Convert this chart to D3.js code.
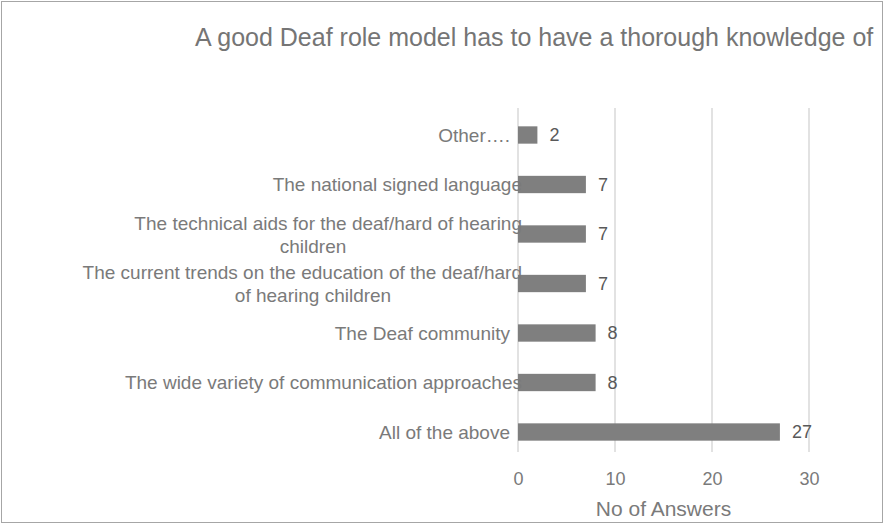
<!DOCTYPE html>
<html>
<head>
<meta charset="utf-8">
<script src="https://cdn.jsdelivr.net/npm/d3@7"></script>
<style>
  body { margin: 0; background: #fff; }
  svg { display: block; font-family: "Liberation Sans", Arial, Helvetica, sans-serif; }
</style>
</head>
<body>
<div id="chart"></div>
<script>
// categories listed bottom to top as in the source sheet
const categories = [
    ["All of the above"],
    ["The wide variety of communication approaches"],
    ["The Deaf community"],
    ["The current trends on the education of the deaf/hard", "of hearing children"],
    ["The technical aids for the deaf/hard of hearing", "children"],
    ["The national signed language"],
    ["Other…."]
];
const answers = [27, 8, 8, 7, 7, 7, 2];
const xTicks = [0, 10, 20, 30];
const titleText = "A good Deaf role model has to have a thorough knowledge of";
const xTitle = "No of Answers";

const W = 886, H = 525;
const margin = { top: 110, right: 77, bottom: 68, left: 518 };
const width = W - margin.left - margin.right;
const height = H - margin.top - margin.bottom;

const svg = d3.select("#chart").append("svg")
    .attr("width", W)
    .attr("height", H);

// outer frame
svg.append("rect")
    .attr("x", 1.5).attr("y", 1.5)
    .attr("width", 881).attr("height", 521)
    .attr("fill", "#fff")
    .attr("stroke", "#a6a6a6")
    .attr("stroke-width", 1);

// title
svg.append("text")
    .attr("x", 195)
    .attr("y", 46)
    .style("font-size", "25px")
    .style("fill", "#757575")
    .text(titleText);

const g = svg.append("g")
    .attr("transform", `translate(${margin.left},${margin.top})`);

const x = d3.scaleLinear().domain([0, 30]).range([0, width]);
const y = d3.scaleBand()
    .domain(d3.range(categories.length))
    .range([height, 0])
    .paddingInner(0.65)
    .paddingOuter(0.33);

// gridlines
g.append("g")
    .selectAll("line")
    .data(xTicks)
    .enter()
    .append("line")
    .attr("x1", d => x(d)).attr("x2", d => x(d))
    .attr("y1", -2).attr("y2", height - 5)
    .attr("stroke", "#d9d9d9")
    .attr("stroke-width", 1.5);

// x axis tick labels
const xAxis = d3.axisBottom(x).tickValues(xTicks).tickSize(0).tickPadding(0);
g.append("g")
    .attr("class", "x-axis")
    .attr("transform", `translate(0,${height})`)
    .call(xAxis)
    .call(a => a.select(".domain").remove())
    .selectAll("text")
    .attr("dy", "1.55em")
    .style("font-size", "18px")
    .style("font-family", "Liberation Sans, Arial, sans-serif")
    .style("fill", "#7a7a7a");

// x axis title
g.append("text")
    .attr("text-anchor", "middle")
    .attr("x", x(15))
    .attr("y", height + 59)
    .style("font-size", "21px")
    .style("fill", "#7a7a7a")
    .text(xTitle);

// bars
g.selectAll("rect.bar")
    .data(answers)
    .enter()
    .append("rect")
    .attr("class", "bar")
    .attr("x", x(0))
    .attr("y", (d, i) => y(i))
    .attr("width", d => x(d) - x(0))
    .attr("height", y.bandwidth())
    .attr("fill", "#7f7f7f");

// value labels
g.selectAll("text.val")
    .data(answers)
    .enter()
    .append("text")
    .attr("class", "val")
    .attr("x", d => x(d) + 12)
    .attr("y", (d, i) => y(i) + y.bandwidth() / 2)
    .attr("dy", "0.36em")
    .style("font-size", "18px")
    .style("fill", "#595959")
    .text(d => d);

// category labels
const labelEnd = -8;
const labelCenter = -205;
categories.forEach((lines, i) => {
    const cy = y(i) + y.bandwidth() / 2;
    const t = g.append("text")
        .attr("y", cy - (lines.length - 1) * 11)
        .style("font-size", "19px")
        .style("fill", "#7a7a7a");
    lines.forEach((line, j) => {
        t.append("tspan")
            .attr("x", j === 0 ? labelEnd : labelCenter)
            .attr("dy", j === 0 ? "0.36em" : "1.2em")
            .attr("text-anchor", j === 0 ? "end" : "middle")
            .text(line);
    });
    // long labels spill over the axis a little, as in the original
    const first = t.select("tspan").node();
    if (first.getComputedTextLength() > 200) {
        t.select("tspan").attr("x", labelEnd + 12);
    }
});
</script>
</body>
</html>
